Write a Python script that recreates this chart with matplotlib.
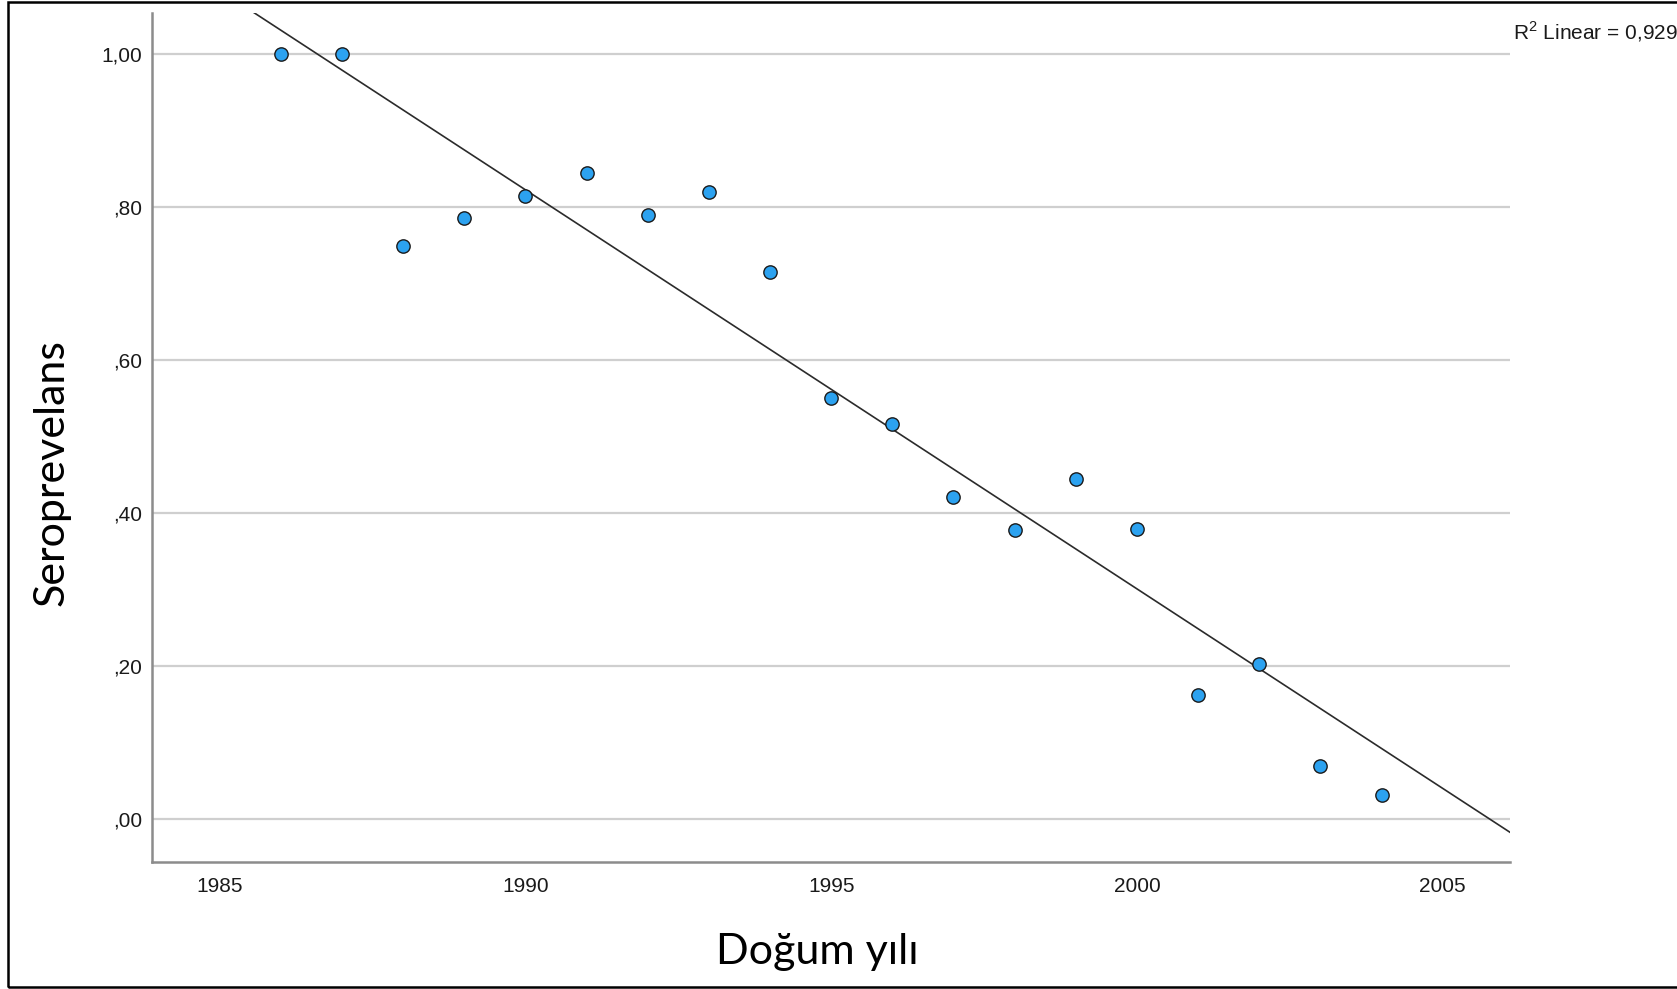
import numpy as np
import matplotlib
matplotlib.use("Agg")
import matplotlib.pyplot as plt
from matplotlib.patches import Rectangle

# values
yil = [1986, 1987, 1988, 1989, 1990, 1991, 1992, 1993, 1994, 1995,
       1996, 1997, 1998, 1999, 2000, 2001, 2002, 2003, 2004]
seroprevelans = [1.00, 1.00, 0.750, 0.786, 0.815, 0.845, 0.790, 0.820, 0.715, 0.550,
                 0.517, 0.421, 0.378, 0.445, 0.380, 0.162, 0.203, 0.070, 0.031]

x_ticks = [1985, 1990, 1995, 2000, 2005]
y_ticks = [0.0, 0.2, 0.4, 0.6, 0.8, 1.0]
y_tick_labels = [",00", ",20", ",40", ",60", ",80", "1,00"]
r2_text = r"R$^{\mathregular{2}}$ Linear = 0,929"

W, H = 1677, 989
fig = plt.figure(figsize=(W / 100, H / 100), dpi=100)
fig.patch.set_facecolor("white")

left, right, top, bottom = 152.3, 1510, 13, 862
ax = fig.add_axes([left / W, 1 - bottom / H, (right - left) / W, (bottom - top) / H])

xlim = (1983.9, 2006.1)
ax.set_xlim(*xlim)
ax.set_ylim(-0.056, 1.054)

# grid
ax.set_yticks(y_ticks)
ax.set_yticklabels(y_tick_labels)
ax.set_xticks(x_ticks)
ax.yaxis.grid(True, color="#cfcfcf", linewidth=1.6)
ax.set_axisbelow(True)
for s in ["top", "right"]:
    ax.spines[s].set_visible(False)
for s in ["left", "bottom"]:
    ax.spines[s].set_color("#8c8c8c")
    ax.spines[s].set_linewidth(1.8)
ax.tick_params(axis="both", length=0, labelsize=15, colors="#1a1a1a")
ax.tick_params(axis="x", pad=10.5)
ax.tick_params(axis="y", pad=7.5)
for lab in ax.get_xticklabels() + ax.get_yticklabels():
    lab.set_family("Liberation Sans")

# linear fit across the axis range
b, a = np.polyfit(yil, seroprevelans, 1)
fx = np.array(xlim)
ax.plot(fx, a + b * fx, color="#2b2b2b", linewidth=1.2, zorder=2)

ax.scatter(yil, seroprevelans, s=92, color="#2ca2f0", edgecolor="#1a1a1a",
           linewidth=1.0, zorder=3)

fig.text(1512.7 / W, 1 - 39 / H, r2_text, fontsize=15, family="Liberation Sans",
         ha="left", va="baseline", color="#1a1a1a")

fig.text(52 / W, 1 - 473 / H, "Seroprevelans", rotation=90, fontsize=31,
         family="Lato", ha="center", va="center")
fig.text(817 / W, 1 - 952 / H, "Doğum yılı", fontsize=31,
         family="Lato", ha="center", va="center")

fig.patches.append(Rectangle((7.5 / W, 1 - 986.5 / H), 1.2, (986.5 - 2) / H,
                             transform=fig.transFigure, fill=False,
                             edgecolor="black", linewidth=1.8))

fig.savefig("out.png", dpi=100)
